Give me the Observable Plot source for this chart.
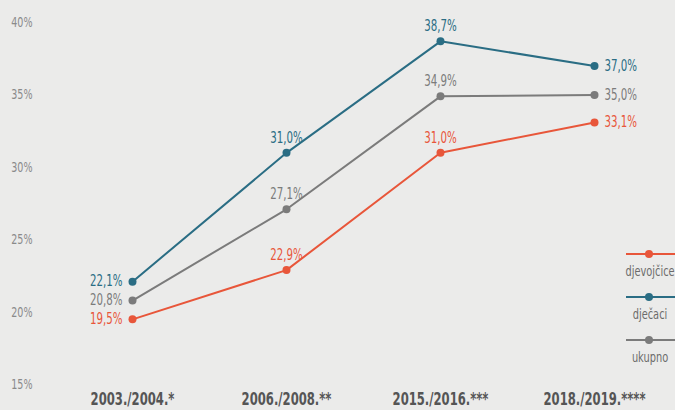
<!DOCTYPE html>
<html>
<head>
<meta charset="utf-8">
<script src="https://cdn.jsdelivr.net/npm/d3@7"></script>
<script src="https://cdn.jsdelivr.net/npm/@observablehq/plot@0.6"></script>
<style>
  html, body { margin: 0; padding: 0; background: #ebebea; }
  #wrap { position: relative; width: 675px; height: 410px; overflow: hidden; }
  svg text { font-stretch: condensed; }
  #legend { position: absolute; left: 610px; top: 240px; overflow: visible; }
</style>
</head>
<body>
<div id="wrap"></div>
<script>
const periods = ["2003./2004.*", "2006./2008.**", "2015./2016.***", "2018./2019.****"];
const seriesNames = ["djevojčice", "dječaci", "ukupno"];
const girls = [19.5, 22.9, 31.0, 33.1];
const boys = [22.1, 31.0, 38.7, 37.0];
const total = [20.8, 27.1, 34.9, 35.0];
const yTicks = [15, 20, 25, 30, 35, 40];
const colors = { "djevojčice": "#e8563a", "dječaci": "#2a6d84", "ukupno": "#7b7b7b" };

const valuesBySeries = { "djevojčice": girls, "dječaci": boys, "ukupno": total };
const data = [];
for (const s of seriesNames) {
  valuesBySeries[s].forEach((v, i) => data.push({ series: s, period: periods[i], idx: i, value: v }));
}
const fmt = v => v.toFixed(1).replace(".", ",") + "%";
const font = "'DejaVu Sans', sans-serif";

const firstPts = data.filter(d => d.idx === 0);
const midPts = data.filter(d => d.idx === 1 || d.idx === 2);
const lastPts = data.filter(d => d.idx === 3);
const wt = d => d.series === "ukupno" ? "normal" : "bold";

const chart = Plot.plot({
  width: 675,
  height: 410,
  marginLeft: 37,
  marginRight: 0,
  marginTop: 22,
  marginBottom: 26,
  style: { background: "transparent", fontFamily: font },
  x: { type: "point", domain: periods, range: [131, 594], padding: 0 },
  y: { domain: [15, 40], range: [384, 22] },
  color: { domain: seriesNames, range: seriesNames.map(s => colors[s]) },
  marks: [
    Plot.ruleY(yTicks, { stroke: "#bdbdbd", strokeDasharray: "1.5,2", strokeWidth: 1, x1: 37, x2: 662 }),
    Plot.axisY({ ticks: yTicks, tickSize: 0, tickPadding: 5, tickFormat: d => d + "%", fontSize: 14, fill: "#8a8a8a", label: null }),
    Plot.axisX({ tickSize: 0, tickPadding: 8, fontSize: 17, fontWeight: "bold", fill: "#555", label: null }),
    Plot.line(data, { x: "period", y: "value", z: "series", stroke: "series", strokeWidth: 2 }),
    Plot.dot(data, { x: "period", y: "value", fill: "series", r: 4 }),
    Plot.text(firstPts, { x: "period", y: "value", text: d => fmt(d.value), fill: "series", textAnchor: "end", dx: -10, fontSize: 15, fontWeight: wt }),
    Plot.text(midPts, { x: "period", y: "value", text: d => fmt(d.value), fill: "series", lineAnchor: "bottom", dy: -10, fontSize: 15, fontWeight: wt }),
    Plot.text(lastPts, { x: "period", y: "value", text: d => fmt(d.value), fill: "series", textAnchor: "start", dx: 10, fontSize: 15, fontWeight: wt })
  ]
});
const wrap = document.getElementById("wrap");
wrap.appendChild(chart);

// legend as a small SVG
const lg = d3.select(wrap).append("svg").attr("id", "legend").attr("width", 65).attr("height", 135)
  .style("font-family", font);
seriesNames.forEach((s, i) => {
  const g = lg.append("g").attr("transform", `translate(0,${14 + i * 43})`);
  g.append("line").attr("x1", 16).attr("x2", 65).attr("y1", 0).attr("y2", 0).attr("stroke", colors[s]).attr("stroke-width", 2);
  g.append("circle").attr("cx", 39).attr("cy", 0).attr("r", 4).attr("fill", colors[s]);
  g.append("text").attr("x", 40).attr("y", 22).attr("text-anchor", "middle").attr("font-size", 14).attr("fill", "#6b6b6b").text(s);
});

// condense all glyphs horizontally (about the text anchor) to mimic the narrow display face
function condense(root, k) {
  root.querySelectorAll("text").forEach(t => {
    const b = t.getBBox();
    if (!(b.width > 0)) return;
    const anchor = getComputedStyle(t).textAnchor;
    const px = anchor === "end" ? b.x + b.width : anchor === "middle" ? b.x + b.width / 2 : b.x;
    const prev = t.getAttribute("transform") || "";
    t.setAttribute("transform", `${prev} translate(${px.toFixed(2)},0) scale(${k},1) translate(${(-px).toFixed(2)},0)`.trim());
  });
}
condense(chart, 0.76);
condense(lg.node(), 0.78);
</script>
</body>
</html>
